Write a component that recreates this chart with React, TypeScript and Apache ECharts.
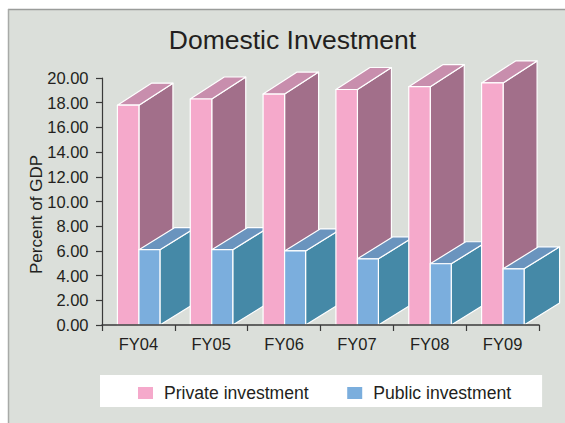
import React, { useEffect, useRef } from "react";
import * as echarts from "echarts";

const categories = ["FY04", "FY05", "FY06", "FY07", "FY08", "FY09"];
const privateInvestment = [17.8, 18.3, 18.7, 19.07, 19.3, 19.6];
const publicInvestment = [6.1, 6.1, 6.0, 5.36, 4.96, 4.55];

const FONT = "'Liberation Sans', Arial, sans-serif";

function box(layer: number, offset: number, width: number, dx: number, front: string, top: string, side: string) {
  return (params: any, api: any) => {
    const [cx, y1] = api.coord([api.value(0), api.value(1)]);
    const [, y0] = api.coord([api.value(0), 0]);
    const x0 = cx + offset;
    const x1 = x0 + width;
    const dy = 22;
    const z2 = params.dataIndex * 10 + layer;
    const style = (fill: string) => ({ fill, stroke: "#ffffff", lineWidth: 1.2, lineJoin: "round" });
    return {
      type: "group",
      children: [
        { type: "polygon", z2, shape: { points: [[x1, y0], [x1 + dx, y0 - dy], [x1 + dx, y1 - dy], [x1, y1]] }, style: style(side) },
        { type: "polygon", z2, shape: { points: [[x0, y1], [x1, y1], [x1 + dx, y1 - dy], [x0 + dx, y1 - dy]] }, style: style(top) },
        { type: "polygon", z2, shape: { points: [[x0, y0], [x1, y0], [x1, y1], [x0, y1]] }, style: style(front) },
      ],
    };
  };
}

export default function App() {
  const ref = useRef<HTMLDivElement>(null);
  useEffect(() => {
    document.body.style.margin = "0";
    const chart = echarts.init(ref.current!, undefined, { renderer: "svg" });
    chart.setOption({
      animation: false,
      backgroundColor: "#ffffff",
      textStyle: { fontFamily: FONT },
      graphic: [
        { type: "rect", z: -10, shape: { x: 8, y: 9, width: 557, height: 414 }, style: { fill: "#dbdfda" } },
        { type: "line", z: -9, shape: { x1: 8, y1: 9.5, x2: 565, y2: 9.5 }, style: { stroke: "#9a9c9a", lineWidth: 1.5 } },
        { type: "line", z: -9, shape: { x1: 8.5, y1: 9, x2: 8.5, y2: 423 }, style: { stroke: "#a8aaa8", lineWidth: 1.5 } },
      ],
      title: {
        text: "Domestic Investment",
        left: 287.5,
        textAlign: "center",
        top: 21,
        textStyle: { fontFamily: FONT, fontSize: 26.5, fontWeight: "normal", color: "#231f20" },
      },
      grid: { left: 102, right: 26, top: 78, bottom: 98, containLabel: false },
      xAxis: {
        type: "category",
        data: categories,
        z: 5,
        axisLine: { lineStyle: { color: "#3a3a3a", width: 1.5 } },
        axisTick: { show: true, length: 6, alignWithLabel: false, lineStyle: { color: "#3a3a3a", width: 1.2 } },
        axisLabel: { fontFamily: FONT, fontSize: 16.5, color: "#231f20", margin: 10 },
      },
      yAxis: {
        type: "value",
        min: 0,
        max: 20,
        interval: 2,
        z: 5,
        name: "Percent of GDP",
        nameLocation: "middle",
        nameGap: 57,
        nameMoveOverlap: false,
        nameRotate: 90,
        nameTextStyle: { fontFamily: FONT, fontSize: 17, color: "#231f20", padding: [0, 26, 0, 0] },
        axisLine: { show: true, lineStyle: { color: "#3a3a3a", width: 1.2 } },
        axisTick: { show: true, length: 6, lineStyle: { color: "#3a3a3a", width: 1.2 } },
        axisLabel: { fontFamily: FONT, fontSize: 16.5, color: "#231f20", margin: 13.5, formatter: (v: number) => v.toFixed(2) },
        splitLine: { show: false },
      },
      legend: {
        left: 100,
        top: 375,
        orient: "horizontal",
        backgroundColor: "#ffffff",
        borderRadius: 0,
        padding: [9, 31, 5, 38],
        itemWidth: 15,
        itemHeight: 12,
        itemGap: 38.5,
        icon: "rect",
        itemStyle: { borderWidth: 0 },
        textStyle: { fontFamily: FONT, fontSize: 17.6, color: "#231f20", padding: [0, 0, 4, 6] },
        data: ["Private investment", "Public investment"],
      },
      series: [
        {
          name: "Private investment",
          type: "custom",
          z: 2,
          itemStyle: { color: "#f5a9cb" },
          encode: { x: 0, y: 1 },
          data: categories.map((_, i) => [i, privateInvestment[i]]),
          renderItem: box(0, -21, 21.5, 34, "#f5a9cb", "#c88ead", "#a26f8a"),
        },
        {
          name: "Public investment",
          type: "custom",
          z: 2,
          itemStyle: { color: "#7baedd" },
          encode: { x: 0, y: 1 },
          data: categories.map((_, i) => [i, publicInvestment[i]]),
          renderItem: box(5, 0.5, 21, 35.5, "#7baedd", "#6a94be", "#4589a7"),
        },
      ],
    });
    return () => chart.dispose();
  }, []);
  return <div ref={ref} style={{ width: 565, height: 423 }} />;
}
